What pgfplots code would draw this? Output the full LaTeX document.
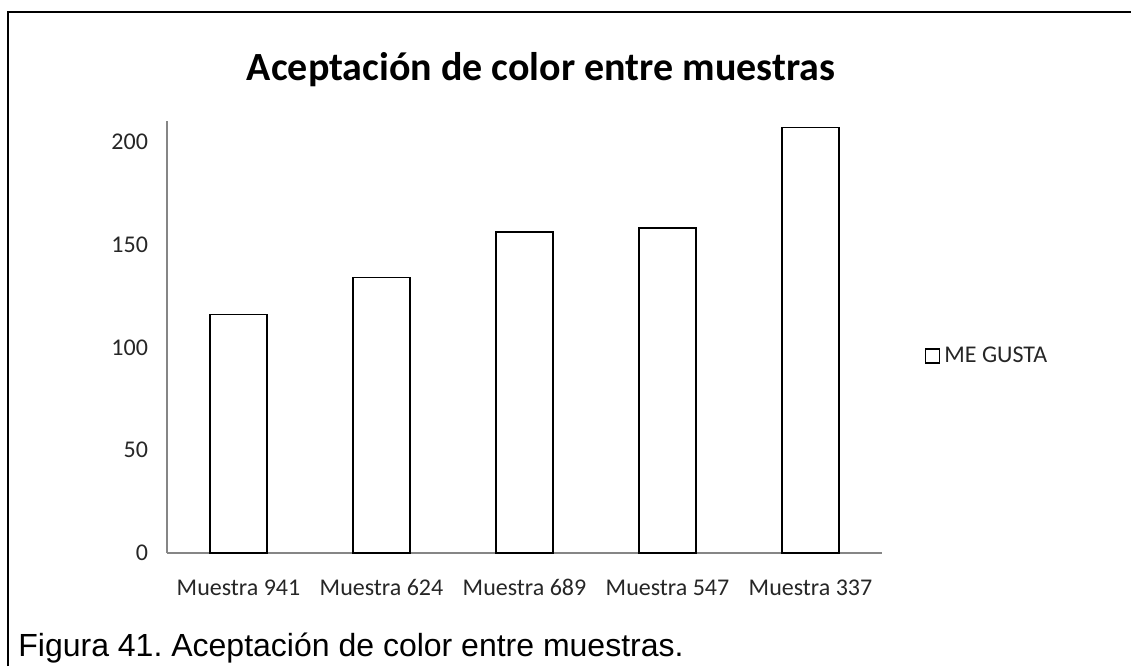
\documentclass[border=0pt]{standalone}
\usepackage{fontspec}
\setmainfont{Carlito}
\newfontfamily\captionfont{Liberation Sans}
\usepackage{pgfplots}
\pgfplotsset{compat=1.18}
\definecolor{axisgray}{RGB}{134,134,134}
\definecolor{labelgray}{RGB}{38,38,38}
\frenchspacing
\begin{document}
\begin{tikzpicture}
% page frame: only the top and left rules are visible
\path[use as bounding box] (0,0) rectangle (565.5pt,333pt);
\draw[line width=1pt] (4pt,0) -- (4pt,327pt) -- (565.5pt,327pt);
% chart title
\node[anchor=base, inner sep=0pt, font=\fontsize{20}{24}\selectfont\bfseries]
  at (270.5pt,293pt) {Aceptación de color entre muestras};
\begin{axis}[
  at={(83.5pt,56.5pt)}, anchor=south west,
  width=357.5pt, height=215.8pt, scale only axis,
  xmin=-0.5, xmax=4.5, ymin=0, ymax=210,
  axis x line*=bottom, axis y line*=left,
  axis line style={axisgray, line width=0.6pt},
  major tick length=0pt,
  xtick={0,...,4},
  xticklabels={Muestra 941, Muestra 624, Muestra 689, Muestra 547, Muestra 337},
  ytick={0,50,100,150,200},
  /pgf/number format/assume math mode=true,
  tick label style={font=\fontsize{12}{14}\selectfont, text=labelgray},
  yticklabel style={xshift=-6pt},
  xticklabel style={anchor=base, yshift=-21pt},
  ybar, bar width=0.4,
  legend style={draw=none, fill=none, at={(1.059,0.457)}, anchor=west,
    font=\fontsize{12}{14}\selectfont, text=labelgray, inner sep=0pt},
  legend cell align=left,
]
\addplot[draw=black, fill=white, line width=0.9pt,
  legend image code/.code={\draw[black, fill=white, line width=0.9pt] (-2pt,-3.5pt) rectangle (5pt,3.5pt);}]
  coordinates {(0,116) (1,134) (2,156) (3,158) (4,207)};
\addlegendentry{ME GUSTA}
\end{axis}
% figure caption
\node[anchor=base west, inner sep=0pt, font=\captionfont\fontsize{16}{20}\selectfont]
  at (9pt,5pt) {Figura 41. Aceptación de color entre muestras.};
\end{tikzpicture}
\end{document}
